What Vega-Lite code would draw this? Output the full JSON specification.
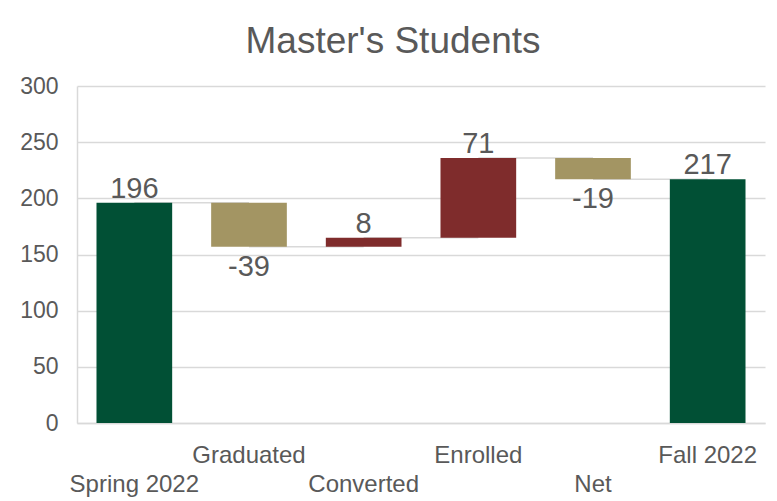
{
  "$schema": "https://vega.github.io/schema/vega-lite/v6.json",
  "width": 688,
  "height": 337,
  "autosize": "none",
  "padding": {"left": 77, "top": 86, "right": 12, "bottom": 78},
  "background": "white",
  "config": {"font": "Liberation Sans", "view": {"stroke": null}},
  "title": {
    "text": "Master's Students",
    "fontSize": 37,
    "font": "Liberation Sans",
    "fontWeight": "normal",
    "color": "#595959",
    "offset": 14,
    "dx": -28,
    "anchor": "middle"
  },
  "data": {
    "values": [
      {"category": "Spring 2022", "start": 0, "end": 196, "label": "196", "kind": "total", "next": "Graduated", "dir": "up"},
      {"category": "Graduated", "start": 196, "end": 157, "label": "-39", "kind": "decrease", "next": "Converted", "dir": "down"},
      {"category": "Converted", "start": 157, "end": 165, "label": "8", "kind": "increase", "next": "Enrolled", "dir": "up"},
      {"category": "Enrolled", "start": 165, "end": 236, "label": "71", "kind": "increase", "next": "Net", "dir": "up"},
      {"category": "Net", "start": 236, "end": 217, "label": "-19", "kind": "decrease", "next": "Fall 2022", "dir": "down"},
      {"category": "Fall 2022", "start": 0, "end": 217, "label": "217", "kind": "total", "next": null, "dir": "up"}
    ]
  },
  "encoding": {
    "x": {
      "field": "category",
      "type": "nominal",
      "sort": null,
      "scale": {"paddingInner": 0.34, "paddingOuter": 0.17},
      "axis": {
        "title": null,
        "labelAngle": 0,
        "labelFontSize": 24,
        "labelColor": "#595959",
        "labelPadding": 20,
        "labelLineHeight": 29,
        "ticks": false,
        "domainColor": "#D9D9D9",
        "domainWidth": 1.5,
        "labelExpr": "indexof(['Spring 2022','Converted','Net'], datum.value) >= 0 ? ['', datum.value] : datum.value"
      }
    }
  },
  "layer": [
    {
      "transform": [{"filter": "datum.next != null"}],
      "mark": {"type": "rule", "color": "#D9D9D9", "strokeWidth": 1.5},
      "encoding": {
        "x2": {"field": "next"},
        "y": {"field": "end", "type": "quantitative"}
      }
    },
    {
      "mark": {"type": "bar"},
      "encoding": {
        "y": {
          "field": "start",
          "type": "quantitative",
          "scale": {"domain": [0, 300], "nice": false},
          "axis": {
            "title": null,
            "values": [0, 50, 100, 150, 200, 250, 300],
            "ticks": false,
            "grid": true,
            "gridColor": "#D9D9D9",
            "gridWidth": 1.5,
            "domain": true,
            "domainColor": "#D9D9D9",
            "domainWidth": 1.5,
            "labelFontSize": 23,
            "labelColor": "#595959",
            "labelPadding": 19
          }
        },
        "y2": {"field": "end"},
        "color": {
          "field": "kind",
          "type": "nominal",
          "scale": {"domain": ["total", "decrease", "increase"], "range": ["#015035", "#A39563", "#7F2C2C"]},
          "legend": null
        }
      }
    },
    {
      "transform": [{"filter": "datum.dir == 'up'"}],
      "mark": {"type": "text", "baseline": "alphabetic", "dy": -5, "fontSize": 29, "color": "#595959"},
      "encoding": {
        "y": {"field": "end", "type": "quantitative"},
        "text": {"field": "label"}
      }
    },
    {
      "transform": [{"filter": "datum.dir == 'down'"}],
      "mark": {"type": "text", "baseline": "top", "dy": 6, "fontSize": 29, "color": "#595959"},
      "encoding": {
        "y": {"field": "end", "type": "quantitative"},
        "text": {"field": "label"}
      }
    }
  ]
}
